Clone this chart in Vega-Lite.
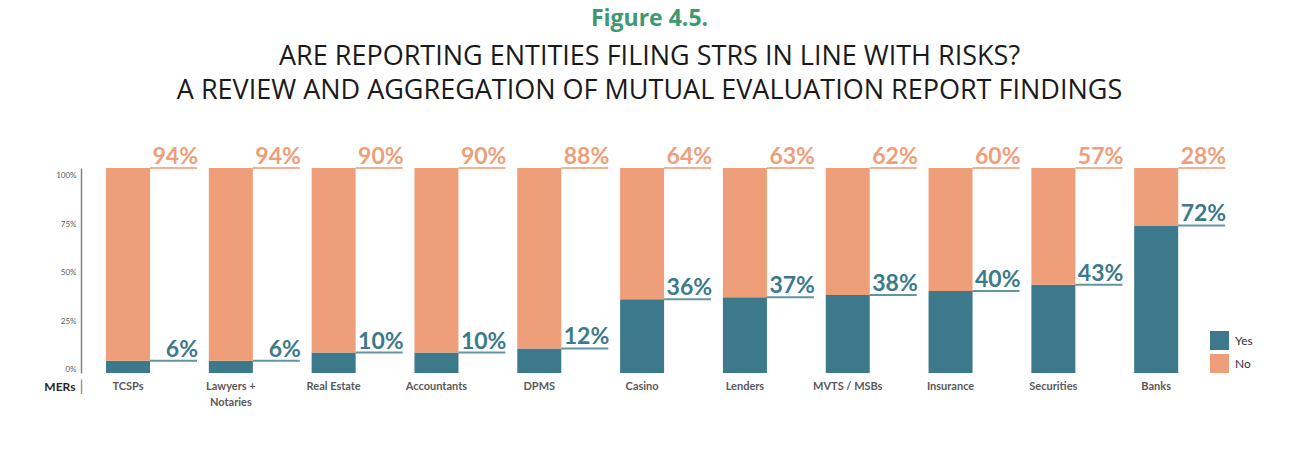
{
  "$schema": "https://vega.github.io/schema/vega-lite/v6.json",
  "width": 1181,
  "height": 205,
  "autosize": {"type": "none"},
  "padding": {"left": 81, "top": 168, "right": 28, "bottom": 81},
  "background": "white",
  "config": {"view": {"stroke": null}, "font": "Lato"},
  "title": {
    "text": "Figure 4.5.",
    "subtitle": ["ARE REPORTING ENTITIES FILING STRS IN LINE WITH RISKS?", "A REVIEW AND AGGREGATION OF MUTUAL EVALUATION REPORT FINDINGS"],
    "anchor": "middle",
    "dx": -22,
    "font": "Open Sans",
    "fontSize": 23,
    "fontWeight": "bold",
    "color": "#3d9970",
    "subtitleFont": "Open Sans",
    "subtitleFontSize": 27,
    "subtitleFontWeight": "normal",
    "subtitleColor": "#1a1a1a",
    "subtitleLineHeight": 34,
    "subtitlePadding": 13,
    "offset": 42
  },
  "data": {
    "values": [
      {"cat": "TCSPs", "series": "Yes", "value": 0.06},
      {"cat": "TCSPs", "series": "No", "value": 0.94},
      {"cat": "Lawyers + Notaries", "series": "Yes", "value": 0.06},
      {"cat": "Lawyers + Notaries", "series": "No", "value": 0.94},
      {"cat": "Real Estate", "series": "Yes", "value": 0.10},
      {"cat": "Real Estate", "series": "No", "value": 0.90},
      {"cat": "Accountants", "series": "Yes", "value": 0.10},
      {"cat": "Accountants", "series": "No", "value": 0.90},
      {"cat": "DPMS", "series": "Yes", "value": 0.12},
      {"cat": "DPMS", "series": "No", "value": 0.88},
      {"cat": "Casino", "series": "Yes", "value": 0.36},
      {"cat": "Casino", "series": "No", "value": 0.64},
      {"cat": "Lenders", "series": "Yes", "value": 0.37},
      {"cat": "Lenders", "series": "No", "value": 0.63},
      {"cat": "MVTS / MSBs", "series": "Yes", "value": 0.38},
      {"cat": "MVTS / MSBs", "series": "No", "value": 0.62},
      {"cat": "Insurance", "series": "Yes", "value": 0.40},
      {"cat": "Insurance", "series": "No", "value": 0.60},
      {"cat": "Securities", "series": "Yes", "value": 0.43},
      {"cat": "Securities", "series": "No", "value": 0.57},
      {"cat": "Banks", "series": "Yes", "value": 0.72},
      {"cat": "Banks", "series": "No", "value": 0.28}
    ]
  },
  "resolve": {"scale": {"y": "independent"}},
  "encoding": {
    "x": {
      "field": "cat", "type": "nominal", "sort": null,
      "scale": {"paddingInner": 0, "paddingOuter": 0.2432},
      "axis": {
        "title": "MERs", "titleX": -6, "titleY": 17, "titleAlign": "right", "titleBaseline": "alphabetic",
        "titleFont": "Lato", "titleFontSize": 12, "titleFontWeight": "bold", "titleColor": "#262626",
        "labelAngle": 0, "labelOffset": -29.4, "labelPadding": 7, "labelFont": "Lato", "labelFontSize": 11,
        "labelFontWeight": "bold", "labelColor": "#595959", "labelLineHeight": 16, "labelBaseline": "top",
        "domain": false, "ticks": false,
        "labelExpr": "datum.value == 'Lawyers + Notaries' ? ['Lawyers +', 'Notaries'] : datum.label"
      }
    }
  },
  "layer": [
    {
      "mark": {"type": "bar", "width": 44, "xOffset": -29.4},
      "encoding": {
        "y": {"field": "value", "type": "quantitative", "stack": "zero", "scale": {"domain": [0, 1]}, "axis": null},
        "color": {
          "field": "series", "type": "nominal",
          "scale": {"domain": ["Yes", "No"], "range": ["#3c798b", "#ee9e78"]},
          "legend": {
            "title": null, "orient": "none", "legendX": 1129, "legendY": 163,
            "symbolType": "square", "symbolSize": 361, "symbolStrokeWidth": 0, "symbolOpacity": 1,
            "labelFont": "Lato", "labelFontSize": 12, "labelColor": "#333333", "rowPadding": 4, "labelOffset": 6
          }
        },
        "order": {"field": "series", "sort": "descending"}
      }
    },
    {
      "mark": {"type": "tick", "size": 47, "thickness": 2, "xOffset": 16.1, "opacity": 0.8},
      "encoding": {
        "y": {"field": "value", "type": "quantitative", "stack": "zero", "scale": {"domain": [0, 1]}, "axis": null},
        "color": {"field": "series", "type": "nominal", "legend": null},
        "order": {"field": "series", "sort": "descending"}
      }
    },
    {
      "mark": {"type": "text", "align": "right", "baseline": "alphabetic", "dy": -4, "xOffset": 40.6, "fontSize": 23, "fontWeight": "bold", "font": "Lato"},
      "encoding": {
        "y": {"field": "value", "type": "quantitative", "stack": "zero", "scale": {"domain": [0, 1]}, "axis": null},
        "text": {"field": "value", "type": "quantitative", "format": ".0%"},
        "color": {"field": "series", "type": "nominal", "legend": null},
        "order": {"field": "series", "sort": "descending"}
      }
    },
    {
      "mark": {"type": "point", "opacity": 0},
      "encoding": {
        "y": {
          "field": "value", "type": "quantitative",
          "scale": {"domain": [-0.0155, 1.0412], "nice": false, "zero": false},
          "axis": {
            "orient": "left", "values": [0, 0.25, 0.5, 0.75, 1], "format": ".0%", "grid": false, "ticks": false,
            "domainColor": "#7f7f7f", "domainWidth": 1.5, "labelFont": "Lato", "labelFontSize": 8, "labelColor": "#595959",
            "labelPadding": 5,
            "title": "|", "titleAngle": 0, "titleX": 0, "titleY": 222, "titleAlign": "center", "titleBaseline": "alphabetic",
            "titleFontSize": 16, "titleFontWeight": "normal", "titleColor": "#7f7f7f"
          }
        }
      }
    }
  ]
}
